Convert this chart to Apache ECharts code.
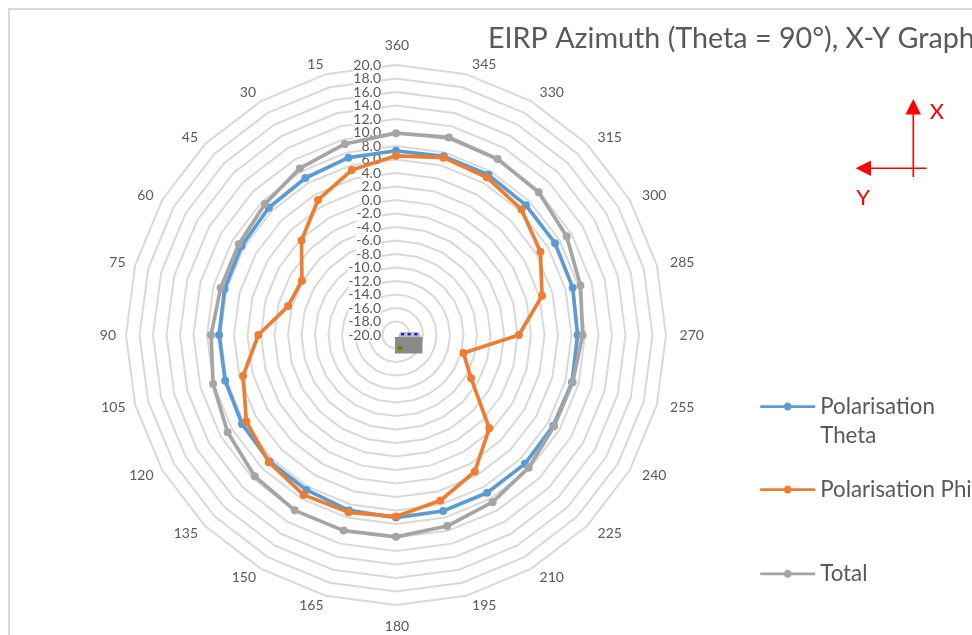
<!DOCTYPE html>
<html><head><meta charset="utf-8">
<style>html,body{margin:0;padding:0;background:#fff}#c{width:972px;height:635px}</style>
<script src="https://cdn.jsdelivr.net/npm/echarts@6/dist/echarts.min.js"></script>
</head><body><div id="c"></div>
<script>
// Azimuth angles, in drawing order from the top going counter-clockwise
const angles = [360,15,30,45,60,75,90,105,120,135,150,165,180,195,210,225,240,255,270,285,300,315,330,345];
const theta = [7.3,7.2,6.85,6.65,6.4,6.3,6.2,6.2,6.35,6.5,6.5,6.9,7.05,7.0,7.0,7.0,6.9,7.0,6.9,7.1,7.2,7.2,7.4,7.4];
const phi = [6.55,5.3,3.1,-0.2,-3.9,-3.45,0.4,3.45,5.6,6.65,7.35,7.2,6.9,5.4,3.35,-0.45,-7.15,-9.65,-1.8,2.4,4.7,6.3,6.95,7.2];
const total = [9.9,9.3,8.5,7.45,6.9,6.9,7.4,8.05,8.8,9.6,10.0,10.0,9.9,9.3,8.6,7.8,7.05,7.1,7.65,8.3,9.2,9.9,10.1,10.3];
const seriesNames = ['Polarisation Theta','Polarisation Phi','Total'];
const seriesColors = ['#5B9BD5','#ED7D31','#A5A5A5'];
const axisMin = -20, axisMax = 20, axisSplits = 20;
const FONT = 'Lato';
const legendIcon = 'path://M0 2.6H24.25A4 4 0 0 1 31.75 2.6H56V5.4H31.75A4 4 0 0 1 24.25 5.4H0Z';

const mkLegend = (i, top, extra) => ({
  left: 760.2, top, orient:'vertical', padding:0, selectedMode:false,
  icon: legendIcon, itemWidth:55, itemHeight:8, itemGap:0,
  data:[{name:seriesNames[i], itemStyle:{color:seriesColors[i]}}],
  textStyle:Object.assign({fontFamily:FONT,fontSize:22.3,color:'#595959'},extra||{})
});
const nameRich = {fontFamily:FONT,fontSize:14,color:'#595959'};
const tickLabel = {show:true,margin:15,fontFamily:FONT,fontSize:14,lineHeight:13,color:'#595959',backgroundColor:'#fff',hideOverlap:false};
const mkIndicator = label => angles.map((a,i)=>{
  const o={name:String(a),min:axisMin,max:axisMax};
  if(i===0) o.axisLabel=label;
  return o;
});
const red = '#FF0000';
const chart = echarts.init(document.getElementById('c'),null,{renderer:'canvas'});
chart.setOption({
  animation:false,
  backgroundColor:'#fff',
  title:{text:'EIRP Azimuth (Theta = 90°), X-Y Graph',left:488,top:24,padding:0,
    textStyle:{fontFamily:FONT,fontSize:28.7,fontWeight:'normal',color:'#595959'}},
  legend:[
    Object.assign(mkLegend(0,363,{lineHeight:29}),{formatter:()=>' \nPolarisation\nTheta'}),
    mkLegend(1,478.5),
    mkLegend(2,562.8)
  ],
  radar:[{
    center:[396,335],radius:270,startAngle:90,shape:'polygon',splitNumber:axisSplits,
    nameGap:10,
    axisName:{color:'#595959',fontFamily:FONT,fontSize:14,
      formatter:n=>{
        const a=+n;
        if(a===360) return '{top|'+n+'}';
        if(a===180) return '{bot|'+n+'}';
        return a>180 ? '\u00A0'+n : n;
      },
      rich:{top:Object.assign({padding:[0,0,3,2]},nameRich),bot:Object.assign({padding:[4,0,0,2]},nameRich)}
    },
    axisLine:{show:false},axisTick:{show:false},
    splitArea:{show:false},
    splitLine:{lineStyle:{color:'#D9D9D9',width:2}},
    indicator:mkIndicator(Object.assign({},tickLabel,{formatter:v=>Number(v).toFixed(1)}))
  },{
    // same scale again: carries only the two end labels, which the first axis drops as overlapping
    center:[396,335],radius:270,startAngle:90,shape:'polygon',splitNumber:axisSplits,
    axisName:{show:false},axisLine:{show:false},axisTick:{show:false},
    splitArea:{show:false},splitLine:{show:false},
    indicator:mkIndicator(Object.assign({},tickLabel,{showMinLabel:true,showMaxLabel:true,
      formatter:v=>(+v===axisMin||+v===axisMax)?Number(v).toFixed(1):''}))
  }],
  series:[{type:'radar',radarIndex:0,symbol:'circle',symbolSize:8,
    lineStyle:{width:3.7},
    data:[theta,phi,total].map((v,i)=>({name:seriesNames[i],value:v,
      itemStyle:{color:seriesColors[i]},lineStyle:{color:seriesColors[i],width:3.7}}))
  }],
  graphic:[
    {type:'rect',silent:true,shape:{x:9,y:9,width:2000,height:2000},style:{fill:'none',stroke:'#D9D9D9',lineWidth:2}},
    // red axes
    {type:'line',shape:{x1:913.3,y1:110,x2:913.3,y2:177},style:{stroke:red,lineWidth:1.6}},
    {type:'polygon',shape:{points:[[913.3,99],[905.5,114.5],[921,114.5]]},style:{fill:red}},
    {type:'line',shape:{x1:866,y1:168.3,x2:926.7,y2:168.3},style:{stroke:red,lineWidth:1.6}},
    {type:'polygon',shape:{points:[[855.7,168.3],[871,160.5],[871,176]]},style:{fill:red}},
    {type:'text',style:{text:'X',x:937,y:112,align:'center',verticalAlign:'middle',fill:red,font:'22px Lato'}},
    {type:'text',style:{text:'Y',x:863,y:198,align:'center',verticalAlign:'middle',fill:red,font:'22px Lato'}},
    // device icon at the centre
    {type:'polygon',z:20,shape:{points:[[398,337],[400,332],[419,332],[421,337]]},style:{fill:'#BDBDBD'}},
    {type:'rect',z:20,shape:{x:395,y:337,width:27.5,height:16.5},style:{fill:'#8A8A8A'}},
    {type:'rect',z:21,shape:{x:401,y:333,width:3.2,height:2.4},style:{fill:'#1A1AE6'}},
    {type:'rect',z:21,shape:{x:407.6,y:333,width:3.2,height:2.4},style:{fill:'#1A1AE6'}},
    {type:'rect',z:21,shape:{x:414.3,y:333,width:3.2,height:2.4},style:{fill:'#1A1AE6'}},
    {type:'rect',z:21,shape:{x:397.6,y:346.5,width:4.8,height:3},style:{fill:'#1E9A1E'}},
    {type:'rect',z:21,shape:{x:397.6,y:349.5,width:4.8,height:2.4},style:{fill:'#A08A20'}}
  ]
});
</script></body></html>
